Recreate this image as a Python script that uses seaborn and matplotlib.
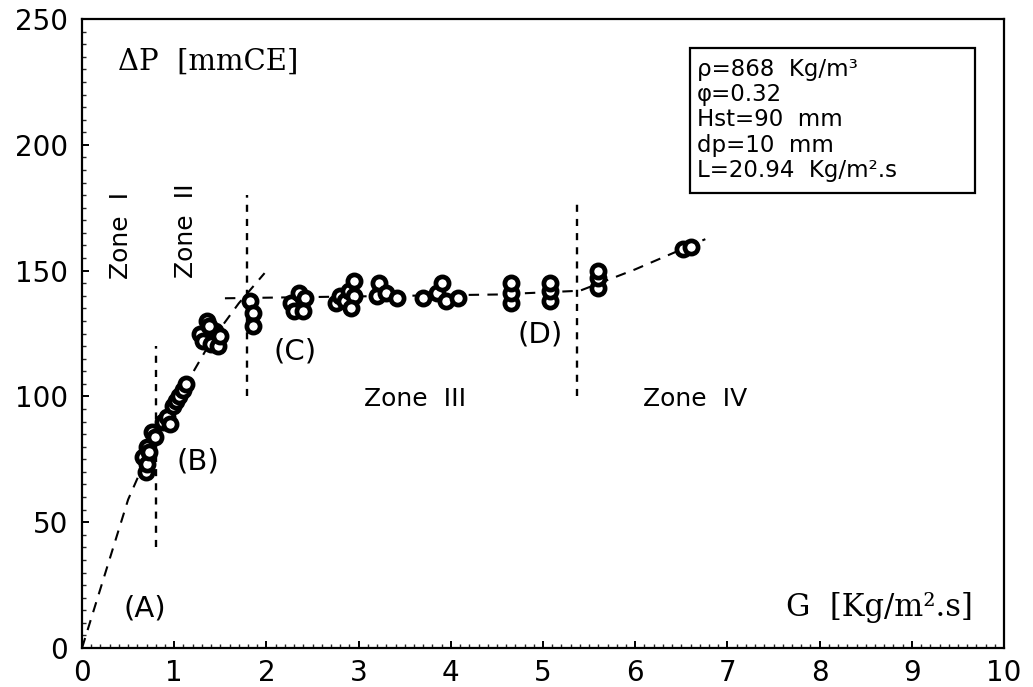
import matplotlib
matplotlib.use("Agg")
import matplotlib.pyplot as plt
import seaborn as sns
import pandas as pd
from matplotlib.ticker import MultipleLocator
from matplotlib.patches import Rectangle

# Measured pressure drop vs gas mass flux
g_flux = [0.66, 0.69, 0.70, 0.71, 0.73, 0.76, 0.79,
          0.88, 0.92, 0.95, 0.99, 1.02, 1.05, 1.10, 1.13,
          1.28, 1.31, 1.36, 1.40, 1.44, 1.47, 1.50, 1.38,
          1.82, 1.85, 1.85,
          2.27, 2.35, 2.42, 2.30, 2.40,
          2.75, 2.80, 2.85, 2.90, 2.95, 2.95, 2.92,
          3.20, 3.22, 3.30, 3.42,
          3.70, 3.85, 3.90, 3.95, 4.08,
          4.65, 4.65, 4.65,
          5.08, 5.08, 5.08,
          5.60, 5.60, 5.60,
          6.52, 6.60]
delta_p = [76, 70, 73, 80, 78, 86, 84,
           90, 92, 89, 96, 98, 100, 102.5, 105,
           125, 122, 130, 121, 126, 120, 124, 128,
           138, 133, 128,
           137, 141, 139, 134, 134,
           137, 140, 138, 142, 146, 140, 135,
           140, 145, 141, 139,
           139, 141, 145, 138, 139,
           137, 141, 145,
           138, 142, 145,
           143, 147, 150,
           158.5, 159.5]

# Trend lines drawn through the data
rise_x = [0.0, 0.5, 0.8, 1.1, 1.4, 1.7, 1.98]
rise_y = [0.0, 59, 84, 103, 122, 137, 149]
plateau_x = [1.55, 2.5, 3.5, 4.5, 5.4, 6.0, 6.76]
plateau_y = [139, 139.5, 140, 140.5, 142, 150.5, 162.5]

# Zone boundaries (x, y_start, y_end)
bound_x = [0.80, 1.79, 5.37]
bound_y0 = [40, 100, 100]
bound_y1 = [120, 180, 179]

x_ticks = list(range(0, 11))
y_ticks = [0, 50, 100, 150, 200, 250]

info_lines = ["ρ=868  Kg/m³", "φ=0.32", "Hst=90  mm", "dp=10  mm", "L=20.94  Kg/m².s"]

sns.set_style("ticks")
plt.rcParams["font.family"] = ["DejaVu Sans"]
plt.rcParams["text.color"] = "black"

fig = plt.figure(figsize=(10.33, 6.87), dpi=100)
ax = fig.add_axes([0.0794, 0.0568, 0.8926, 0.9155])

df = pd.DataFrame({"G": g_flux, "dP": delta_p})
rise = pd.DataFrame({"G": rise_x, "dP": rise_y})
plateau = pd.DataFrame({"G": plateau_x, "dP": plateau_y})

sns.lineplot(data=rise, x="G", y="dP", ax=ax, color="black", lw=1.5,
             linestyle=(0, (5, 4)), sort=False, zorder=2)
sns.lineplot(data=plateau, x="G", y="dP", ax=ax, color="black", lw=1.5,
             linestyle=(0, (5, 4)), sort=False, zorder=2)

for bx, b0, b1 in zip(bound_x, bound_y0, bound_y1):
    ax.plot([bx, bx], [b0, b1], color="black", lw=1.7,
            linestyle=(0, (3, 3)), zorder=2)

sns.scatterplot(data=df, x="G", y="dP", ax=ax, s=90, marker="o",
                facecolor="white", edgecolor="black", linewidth=3.4, zorder=3)

ax.set_xlim(0, 10)
ax.set_ylim(0, 250)
ax.set_xticks(x_ticks)
ax.set_yticks(y_ticks)
ax.xaxis.set_minor_locator(MultipleLocator(0.1))
ax.yaxis.set_minor_locator(MultipleLocator(5))
ax.tick_params(which="major", direction="in", length=5, width=1.4,
               labelsize=20, color="black", labelcolor="black")
ax.tick_params(which="minor", direction="in", length=3, width=1.0)
ax.tick_params(axis="x", which="major", pad=8)
ax.tick_params(axis="y", which="major", pad=10)
ax.set_xlabel("")
ax.set_ylabel("")
for sp in ax.spines.values():
    sp.set_visible(True)
    sp.set_linewidth(1.6)
    sp.set_color("black")

serif = ["DejaVu Serif"]
ax.text(0.39, 233, "ΔP  [mmCE]", family=serif, fontsize=21, va="center", ha="left")
ax.text(9.66, 16, "G  [Kg/m².s]", family=serif, fontsize=22,
        va="center", ha="right")

lab = dict(fontsize=21, va="center", ha="center")
ax.text(0.68, 15.5, "(A)", **lab)
ax.text(1.26, 74, "(B)", **lab)
ax.text(2.31, 118, "(C)", **lab)
ax.text(4.97, 124.5, "(D)", **lab)
zone = dict(fontsize=18, va="center", ha="center")
ax.text(3.61, 99, "Zone  III", **zone)
ax.text(6.65, 99, "Zone  IV", **zone)
ax.text(0.425, 164, "Zone  I", rotation=90, **zone)
ax.text(1.13, 166, "Zone  II", rotation=90, **zone)

# Operating conditions box
ax.add_patch(Rectangle((0.659, 0.723), 0.3096, 0.231, transform=ax.transAxes,
                       facecolor="white", edgecolor="black", lw=1.6, zorder=4))
ax.text(0.667, 0.938, "\n".join(info_lines), transform=ax.transAxes,
        fontsize=16.5, va="top", ha="left", linespacing=1.12, zorder=5)

fig.savefig("out.png", dpi=100)
